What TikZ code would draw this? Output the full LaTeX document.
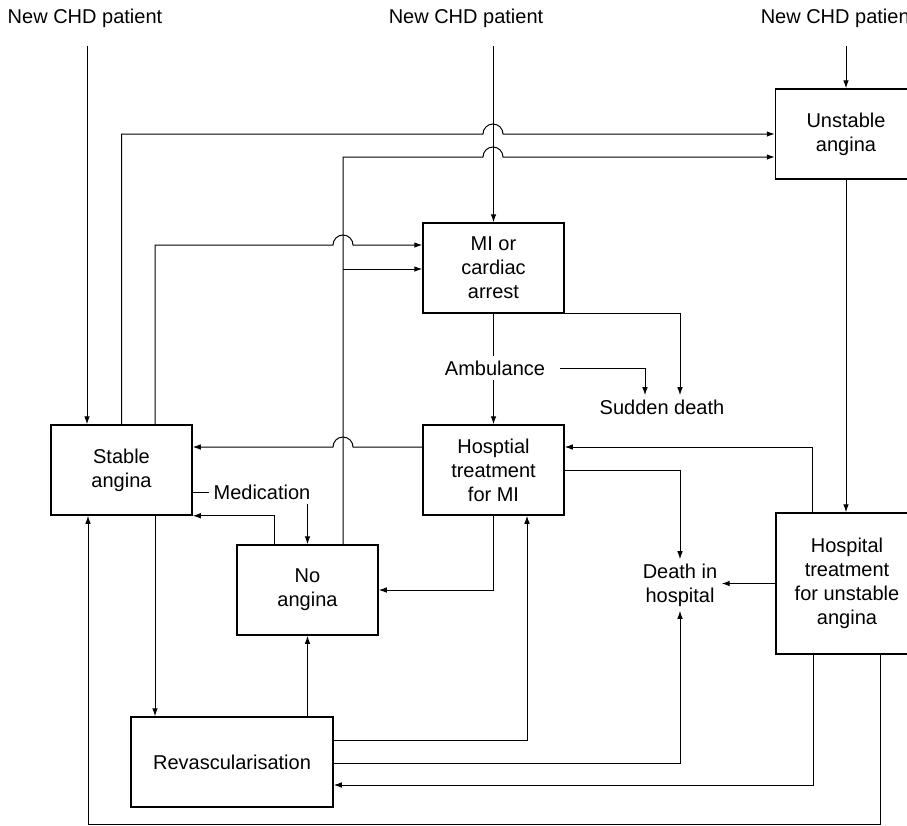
\documentclass[tikz,border=0pt]{standalone}
\usepackage{fontspec}
\setmainfont{Liberation Sans}
\usetikzlibrary{arrows.meta}

\begin{document}
\begin{tikzpicture}[x=0.5pt,y=-0.5pt,>={Latex[length=4pt,width=2.8pt]},line width=0.5pt,
  box/.style={draw,line width=0.75pt,align=center,minimum width=70.5pt,minimum height=45pt,inner sep=2pt},
  lbl/.style={align=center,inner sep=2pt}]
\useasboundingbox (0,0) rectangle (907,826);
% entry points
\node[lbl] (new1) at (85,18) {New CHD patient};
\node[lbl] (new2) at (466,18) {New CHD patient};
\node[lbl] (new3) at (838,18) {New CHD patient};
% states
\node[box] (unst) at (846,134) {Unstable\\angina};
\node[box] (mi) at (493.5,268) {MI or\\cardiac\\arrest};
\node[box] (hmi) at (493.5,470) {Hosptial\\treatment\\for MI};
\node[box] (stable) at (121.5,470) {Stable\\angina};
\node[box] (noang) at (307.5,590) {No\\angina};
\node[box,minimum width=101pt] (revasc) at (232,762) {Revascularisation};
\node[box,minimum width=71pt,minimum height=70.5pt] (hunst) at (847,583.5) {Hospital\\treatment\\for unstable\\angina};
\node[lbl] (amb) at (495,368) {Ambulance};
\node[lbl] (sudden) at (662,407) {Sudden death};
\node[lbl] (death) at (680,585) {Death in\\hospital};
\node[lbl] (med) at (262,492) {Medication};
\coordinate (jn) at (343,269);
% new patients
\draw[->,shorten <=7pt] (new1.south -| 87,0) -- (stable.north -| 87,0);
\draw[->,shorten <=7pt] (mi.north |- new2.south) -- (mi.north);
\draw[->,shorten <=7pt] (unst.north |- new3.south) -- (unst.north);
% top lanes with hops
\draw[->] (stable.north) |- (483,134) arc[start angle=180,end angle=0,radius=5pt] -- (unst.west);
\draw[->] (noang.north -| 343,0) |- (483,157) arc[start angle=180,end angle=0,radius=5pt] -- (unst.west |- 0,157);
\draw[->] (jn) -- (mi.west |- jn);
\draw[->] (stable.north -| 155,0) |- (333,245) arc[start angle=180,end angle=0,radius=5pt] -- (mi.west |- 0,245);
% MI and ambulance
\draw (mi.south) -- (mi.south |- amb.north);
\draw[->] (hmi.north |- amb.south) -- (hmi.north);
\draw[->,shorten <=5pt] (amb.east) -| (sudden.north -| 645,0);
\draw[->] (mi.south east) -| (sudden.north -| 680,0);
% hospital treatment for MI
\draw[->] (hmi.west |- 0,447) -- (353,447) arc[start angle=0,end angle=180,radius=5pt] -- (stable.east |- 0,447);
\draw[->] (hmi.east) -| (death.north);
\draw[->] (hmi.south) |- (noang.east);
% unstable angina
\draw[->] (unst.south) -- (unst.south |- hunst.north);
\draw[->] (hunst.north -| 812,0) |- (hmi.east |- 0,447);
\draw[->] (hunst.west) -- (death.east |- hunst.west);
\draw[->] (hunst.south -| 813,0) |- (revasc.east |- 0,785);
\draw[->] (hunst.south -| 880,0) |- (88,824) -- (stable.south -| 88,0);
% revascularisation
\draw[->] (revasc.east |- 0,740) -| (hmi.south -| 527,0);
\draw[->] (revasc.east |- 0,763) -| (death.south);
\draw[->] (revasc.north -| noang.south) -- (noang.south);
\draw[->] (stable.south -| 155,0) -- (revasc.north -| 155,0);
% stable and no angina
\draw (stable.east |- med) -- (med.west);
\draw[->] (med.south -| noang.north) -- (noang.north);
\draw[->] (noang.north -| 274,0) |- (stable.south east);
\end{tikzpicture}
\end{document}
